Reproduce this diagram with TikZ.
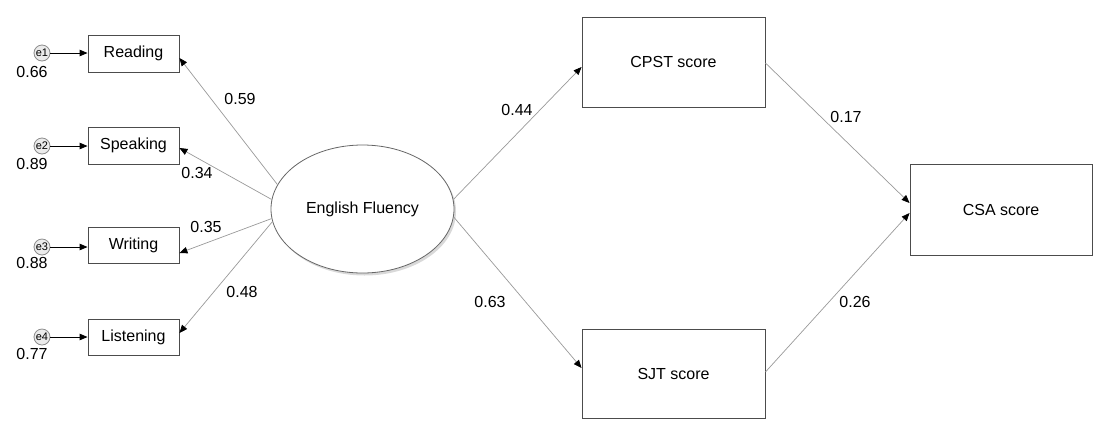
\documentclass[tikz,border=0pt]{standalone}
\usepackage{fontspec}
\setmainfont{Liberation Sans}
\usetikzlibrary{arrows.meta,calc,shapes.geometric}
\begin{document}
\begin{tikzpicture}[x=1pt,y=-1pt,
  txt/.style={font=\fontsize{16}{18}\selectfont},
  obs/.style={draw=black!70, line width=0.9pt, inner sep=0, fill=white, txt},
  lat/.style={draw=black!60, line width=0.8pt, inner sep=0, ellipse, fill=white, txt},
  err/.style={circle, draw=black!45, line width=0.8pt, fill=black!8, inner sep=0, minimum size=16, font=\fontsize{11}{12}\selectfont},
  lbl/.style={inner sep=0, txt},
  path/.style={draw=black!40, line width=0.7pt, -{Triangle[length=8,width=6.5,color=black]}},
  epath/.style={draw=black, line width=0.9pt, -{Triangle[length=8,width=6.5,color=black]}}
]
\useasboundingbox (0,0) rectangle (1094,424);

% latent
\fill[black!15] (364.5,211.5) ellipse [x radius=91.5, y radius=64];
\node[lat, minimum width=183, minimum height=128] (ef) at (362.5,209) {English Fluency};

% observed indicators
\node[obs, minimum width=91, minimum height=37] (read) at (133.5,53.5) {Reading};
\node[obs, minimum width=91, minimum height=37] (speak) at (133.5,145.5) {Speaking};
\node[obs, minimum width=91, minimum height=36] (writ) at (133.5,245.5) {Writing};
\node[obs, minimum width=91, minimum height=36] (listen) at (133.5,337.5) {Listening};

% outcome boxes
\node[obs, minimum width=183, minimum height=90] (cpst) at (673.5,62) {CPST score};
\node[obs, minimum width=183, minimum height=89] (sjt) at (673.5,373.5) {SJT score};
\node[obs, minimum width=182, minimum height=91] (csa) at (1001,209.5) {CSA score};

% error terms
\node[err] (e1) at (42,53) {e1};
\node[err] (e2) at (42,146) {e2};
\node[err] (e3) at (42,247) {e3};
\node[err] (e4) at (42,337) {e4};

\draw[epath] (e1) -- (read.west |- e1);
\draw[epath] (e2) -- (speak.west |- e2);
\draw[epath] (e3) -- (writ.west |- e3);
\draw[epath] (e4) -- (listen.west |- e4);

% variance labels
\node[lbl] (v1) at (32,72) {0.66};
\node[lbl] (v2) at (32,164) {0.89};
\node[lbl] (v3) at (32,263) {0.88};
\node[lbl] (v4) at (32,354) {0.77};

% loadings
\draw[path] (ef.164) -- ($(read.east)+(0,4.5)$);
\draw[path] (ef.174) -- ($(speak.east)+(0,2.5)$);
\draw[path] (ef.186) -- ($(writ.east)+(0,7.5)$);
\draw[path] (ef.188) -- ($(listen.east)+(0,-4.5)$);

\draw[path] (ef.6) -- ($(cpst.west)+(0,5)$);
\draw[path] (ef.-5) -- ($(sjt.west)+(0,-5.5)$);

\draw[path] ($(cpst.east)+(0,1)$) -- ($(csa.west)+(0,-6.5)$);
\draw[path] ($(sjt.east)+(0,-1.5)$) -- ($(csa.west)+(0,3.5)$);

% coefficient labels
\node[lbl] (l59) at (240,99) {0.59};
\node[lbl] (l34) at (197,173) {0.34};
\node[lbl] (l35) at (206,227) {0.35};
\node[lbl] (l48) at (242,292) {0.48};
\node[lbl] (l44) at (517,110) {0.44};
\node[lbl] (l63) at (490,302) {0.63};
\node[lbl] (l17) at (846,117) {0.17};
\node[lbl] (l26) at (855,302) {0.26};
\end{tikzpicture}
\end{document}
